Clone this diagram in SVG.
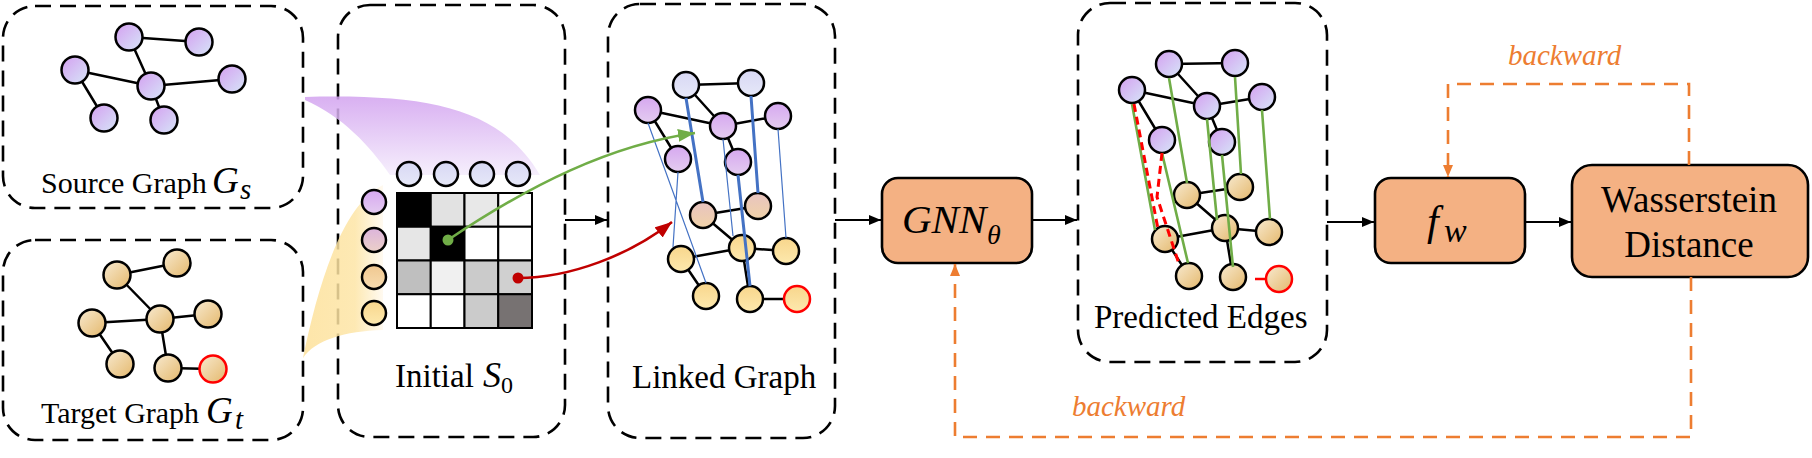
<svg xmlns="http://www.w3.org/2000/svg" width="1812" height="458" viewBox="0 0 1812 458">
<style>
.dbox{fill:none;stroke:#000;stroke-width:2.6;stroke-dasharray:16 9}
.nd{stroke:#000;stroke-width:2.5}
.ed{stroke:#000;stroke-width:2.5;fill:none}
.lbl{font-family:"Liberation Serif","Times New Roman",serif;fill:#000}
.mi{font-family:"Liberation Serif","Times New Roman",serif;font-style:italic;fill:#000}
.bw{font-family:"Liberation Serif","Times New Roman",serif;font-style:italic;fill:#ed7d31;font-size:29px}
.proc{fill:#f4b183;stroke:#000;stroke-width:2.6}
.arr{stroke:#000;stroke-width:2.2;fill:none;marker-end:url(#ah)}
.back{stroke:#ed7d31;stroke-width:2.6;fill:none;stroke-dasharray:14 9;marker-end:url(#aho)}
.grn{stroke:#70ad47;stroke-width:2.6}
.blu{stroke:#4472c4}
.cell{stroke:#000;stroke-width:2}
</style>
<defs>
<marker id="ah" markerUnits="userSpaceOnUse" markerWidth="13" markerHeight="12" refX="12" refY="6" orient="auto"><path d="M0,1 L12,6 L0,11 Z" fill="#000"/></marker>
<marker id="aho" markerUnits="userSpaceOnUse" markerWidth="13" markerHeight="12" refX="12" refY="6" orient="auto"><path d="M0,1 L12,6 L0,11 Z" fill="#ed7d31"/></marker>
<marker id="ahg" markerUnits="userSpaceOnUse" markerWidth="18" markerHeight="14" refX="17" refY="7" orient="auto"><path d="M0,0.5 L17,7 L0,13.5 Z" fill="#70ad47"/></marker>
<marker id="ahr" markerUnits="userSpaceOnUse" markerWidth="18" markerHeight="14" refX="17" refY="7" orient="auto"><path d="M0,0.5 L17,7 L0,13.5 Z" fill="#c00000"/></marker>
<linearGradient id="gP" x1="0" y1="0" x2="1" y2="1"><stop offset="0" stop-color="#d49ff0"/><stop offset="1" stop-color="#d6e6f8"/></linearGradient>
<linearGradient id="gB" x1="0" y1="0" x2="1" y2="1"><stop offset="0" stop-color="#f8ead0"/><stop offset="1" stop-color="#e4b86c"/></linearGradient>
<linearGradient id="vL" x1="0" y1="0" x2="0" y2="1"><stop offset="0" stop-color="#d8d8f4"/><stop offset="1" stop-color="#e6e8f8"/></linearGradient>
<linearGradient id="vP" x1="0" y1="0" x2="0" y2="1"><stop offset="0" stop-color="#d6a8f0"/><stop offset="1" stop-color="#e4ccf0"/></linearGradient>
<linearGradient id="vK" x1="0" y1="0" x2="0" y2="1"><stop offset="0" stop-color="#dcb4dc"/><stop offset="1" stop-color="#ecd0c8"/></linearGradient>
<linearGradient id="vO" x1="0" y1="0" x2="0" y2="1"><stop offset="0" stop-color="#e8c4c0"/><stop offset="1" stop-color="#f0d2a8"/></linearGradient>
<linearGradient id="vT" x1="0" y1="0" x2="0" y2="1"><stop offset="0" stop-color="#f0c890"/><stop offset="1" stop-color="#f8dcb0"/></linearGradient>
<linearGradient id="vY" x1="0" y1="0" x2="0" y2="1"><stop offset="0" stop-color="#f8d68c"/><stop offset="1" stop-color="#fde9ae"/></linearGradient>
<linearGradient id="shP" x1="0" y1="0" x2="0" y2="1"><stop offset="0" stop-color="#d2a2ef"/><stop offset="1" stop-color="#f4ecfc"/></linearGradient>
<linearGradient id="shY" x1="0" y1="0" x2="1" y2="0"><stop offset="0" stop-color="#fde19a"/><stop offset="0.65" stop-color="#fde5a6"/><stop offset="1" stop-color="#fff9ee"/></linearGradient>
</defs>

<g id="source-graph">
<rect class="dbox" x="3" y="6" width="300" height="202" rx="32"/>
<g class="ed"><path d="M129,37 L199,42 M129,37 L151,86 M75,70 L151,86 M151,86 L232,79 M75,70 L104,118 M151,86 L164,120"/></g>
<g class="nd" fill="url(#gP)">
<circle cx="129" cy="37" r="13.5"/><circle cx="199" cy="42" r="13.5"/><circle cx="75" cy="70" r="13.5"/><circle cx="151" cy="86" r="13.5"/><circle cx="232" cy="79" r="13.5"/><circle cx="104" cy="118" r="13.5"/><circle cx="164" cy="120" r="13.5"/>
</g>
<text class="lbl" x="41" y="193" font-size="30">Source Graph<tspan x="212" font-style="italic" font-size="37">G</tspan><tspan x="240" y="199" font-style="italic" font-size="29">s</tspan></text>
</g>

<g id="target-graph">
<rect class="dbox" x="3" y="240" width="300" height="200" rx="32"/>
<g class="ed"><path d="M117,275 L177,263 M117,275 L160,319 M92,323 L160,319 M160,319 L208,314 M92,323 L120,364 M160,319 L168,368 M168,368 L213,369"/></g>
<g class="nd" fill="url(#gB)">
<circle cx="117" cy="275" r="13.5"/><circle cx="177" cy="263" r="13.5"/><circle cx="92" cy="323" r="13.5"/><circle cx="160" cy="319" r="13.5"/><circle cx="208" cy="314" r="13.5"/><circle cx="120" cy="364" r="13.5"/><circle cx="168" cy="368" r="13.5"/>
<circle cx="213" cy="369" r="13.5" stroke="#ff0000"/>
</g>
<text class="lbl" x="41" y="423" font-size="30">Target Graph<tspan x="206" font-style="italic" font-size="37">G</tspan><tspan x="235" y="429" font-style="italic" font-size="29">t</tspan></text>
</g>

<g id="initial-s0">
<rect class="dbox" x="338" y="5" width="227" height="432" rx="32"/>
<path d="M305,97 C430,94 500,108 540,175 L390,175 C370,146 342,116 305,100 Z" fill="url(#shP)" opacity="0.85"/>
<path d="M303,358 C318,285 342,205 383,185 L383,330 C345,331 315,340 303,358 Z" fill="url(#shY)" opacity="0.85"/>
<g class="cell">
<rect x="397" y="193" width="33.75" height="33.75" fill="#000"/>
<rect x="430.75" y="193" width="33.75" height="33.75" fill="#e2e2e2"/>
<rect x="464.5" y="193" width="33.75" height="33.75" fill="#e8e8e8"/>
<rect x="498.25" y="193" width="33.75" height="33.75" fill="#fff"/>
<rect x="397" y="226.75" width="33.75" height="33.75" fill="#e6e6e6"/>
<rect x="430.75" y="226.75" width="33.75" height="33.75" fill="#000"/>
<rect x="464.5" y="226.75" width="33.75" height="33.75" fill="#fff"/>
<rect x="498.25" y="226.75" width="33.75" height="33.75" fill="#fff"/>
<rect x="397" y="260.5" width="33.75" height="33.75" fill="#bfbfbf"/>
<rect x="430.75" y="260.5" width="33.75" height="33.75" fill="#f0f0f0"/>
<rect x="464.5" y="260.5" width="33.75" height="33.75" fill="#cbcbcb"/>
<rect x="498.25" y="260.5" width="33.75" height="33.75" fill="#d0d0d0"/>
<rect x="397" y="294.25" width="33.75" height="33.75" fill="#fff"/>
<rect x="430.75" y="294.25" width="33.75" height="33.75" fill="#fff"/>
<rect x="464.5" y="294.25" width="33.75" height="33.75" fill="#cbcbcb"/>
<rect x="498.25" y="294.25" width="33.75" height="33.75" fill="#777272"/>
</g>
<g class="nd" fill="url(#vL)">
<circle cx="409" cy="174" r="12"/><circle cx="446" cy="174" r="12"/><circle cx="482" cy="174" r="12"/><circle cx="518" cy="174" r="12"/>
</g>
<g class="nd">
<circle cx="374" cy="202" r="12" fill="url(#vP)"/><circle cx="374" cy="240" r="12" fill="url(#vK)"/><circle cx="374" cy="277" r="12" fill="url(#vT)"/><circle cx="374" cy="313" r="12" fill="url(#vY)"/>
</g>
<circle cx="448" cy="240" r="5.5" fill="#70ad47"/>
<circle cx="518" cy="278" r="5.5" fill="#c00000"/>
<text class="lbl" x="395" y="387" font-size="33">Initial<tspan x="483" font-style="italic" font-size="36">S</tspan><tspan x="501" y="393" font-size="24">0</tspan></text>
</g>

<g id="linked-graph">
<rect class="dbox" x="608" y="4" width="227" height="434" rx="32"/>
<g class="ed"><path d="M686,85 L751,83 M686,85 L723,126 M648,110 L723,126 M723,126 L778,116 M648,110 L678,159 M723,126 L738,162 M703,215 L758,206 M703,215 L742,248 M681,259 L742,248 M742,248 L786,251 M681,259 L706,296 M742,248 L750,299 M750,299 L797,299"/></g>
<g class="nd">
<circle cx="686" cy="85" r="13" fill="url(#vL)"/><circle cx="751" cy="83" r="13" fill="url(#vL)"/>
<circle cx="648" cy="110" r="13" fill="url(#vP)"/><circle cx="723" cy="126" r="13" fill="url(#vP)"/><circle cx="778" cy="116" r="13" fill="url(#vP)"/><circle cx="678" cy="159" r="13" fill="url(#vP)"/><circle cx="738" cy="162" r="13" fill="url(#vP)"/>
<circle cx="703" cy="215" r="13" fill="url(#vO)"/><circle cx="758" cy="206" r="13" fill="url(#vO)"/>
<circle cx="742" cy="248" r="13" fill="url(#vY)"/><circle cx="786" cy="251" r="13" fill="url(#vY)"/><circle cx="681" cy="259" r="13" fill="url(#vY)"/><circle cx="706" cy="296" r="13" fill="url(#vY)"/><circle cx="750" cy="299" r="13" fill="url(#vY)"/>
<circle cx="797" cy="299" r="13" fill="url(#vY)" stroke="#ff0000"/>
</g>
<g class="blu" fill="none">
<path d="M686,98 L703,202 M751,96 L758,193 M738,175 L750,286" stroke-width="3"/>
<path d="M648,123 L706,283 M678,172 L673,247 M723,139 L733,236 M778,129 L786,238" stroke-width="1.2"/>
</g>
<text class="lbl" x="632" y="388" font-size="33">Linked Graph</text>
</g>

<g id="gnn">
<rect class="proc" x="882" y="178" width="150" height="85" rx="16"/>
<text class="mi" x="902" y="233" font-size="41">GNN<tspan x="987" y="244" font-size="28">θ</tspan></text>
</g>

<g id="predicted-edges">
<rect class="dbox" x="1078" y="3" width="249" height="359" rx="32"/>
<g class="ed"><path d="M1169,64 L1235,63 M1169,64 L1207,106 M1132,90 L1207,106 M1207,106 L1262,97 M1132,90 L1162,140 M1207,106 L1222,142 M1187,195 L1240,187 M1187,195 L1225,228 M1165,239 L1225,228 M1225,228 L1269,232 M1165,239 L1189,276 M1225,228 L1233,277"/></g>
<g class="nd">
<g fill="url(#gP)">
<circle cx="1169" cy="64" r="13"/><circle cx="1235" cy="63" r="13"/><circle cx="1132" cy="90" r="13"/><circle cx="1207" cy="106" r="13"/><circle cx="1262" cy="97" r="13"/><circle cx="1162" cy="140" r="13"/><circle cx="1222" cy="142" r="13"/>
</g>
<g fill="url(#gB)">
<circle cx="1187" cy="195" r="13"/><circle cx="1240" cy="187" r="13"/><circle cx="1225" cy="228" r="13"/><circle cx="1269" cy="232" r="13"/><circle cx="1165" cy="239" r="13"/><circle cx="1189" cy="276" r="13"/><circle cx="1233" cy="277" r="13"/>
<circle cx="1279" cy="279" r="13" stroke="#ff0000"/>
</g>
</g>
<path d="M1255,279 L1266,279" stroke="#ff0000" stroke-width="2.5"/>
<g class="grn" fill="none">
<path d="M1169,78 L1187,183 M1235,77 L1241,174 M1207,119 L1217,220 M1262,110 L1270,219 M1132,104 L1155,230 M1162,153 L1188,263 M1222,155 L1233,267"/>
</g>
<g stroke="#ff0000" stroke-width="3" stroke-dasharray="8 5" fill="none">
<path d="M1134,104 L1158,229"/>
<path d="M1162,153 L1157,197 L1179,264"/>
</g>
<text class="lbl" x="1094" y="328" font-size="33">Predicted Edges</text>
</g>

<g id="fw">
<rect class="proc" x="1375" y="178" width="150" height="85" rx="16"/>
<text class="mi" x="1427" y="235" font-size="42">f<tspan x="1444" y="242" font-size="34">w</tspan></text>
</g>

<g id="wasserstein">
<rect class="proc" x="1572" y="165" width="236" height="112" rx="20"/>
<text class="lbl" x="1689" y="212" font-size="37" text-anchor="middle">Wasserstein</text>
<text class="lbl" x="1689" y="257" font-size="37" text-anchor="middle">Distance</text>
</g>

<g id="connectors">
<path class="arr" d="M565,220 L607,220"/>
<path class="arr" d="M835,220 L881,220"/>
<path class="arr" d="M1032,220 L1077,220"/>
<path class="arr" d="M1327,222 L1374,222"/>
<path class="arr" d="M1525,222 L1571,222"/>
<path d="M448,240 C530,185 610,145 695,133" stroke="#70ad47" stroke-width="2.6" fill="none" marker-end="url(#ahg)"/>
<path d="M518,278 C570,278 630,255 672,222" stroke="#c00000" stroke-width="2.6" fill="none" marker-end="url(#ahr)"/>
<path class="back" d="M1689,165 L1689,84 L1448,84 L1448,177"/>
<path class="back" d="M1691,277 L1691,437 L955,437 L955,264"/>
<text class="bw" x="1508" y="65">backward</text>
<text class="bw" x="1072" y="416" font-size="30">backward</text>
</g>
</svg>
